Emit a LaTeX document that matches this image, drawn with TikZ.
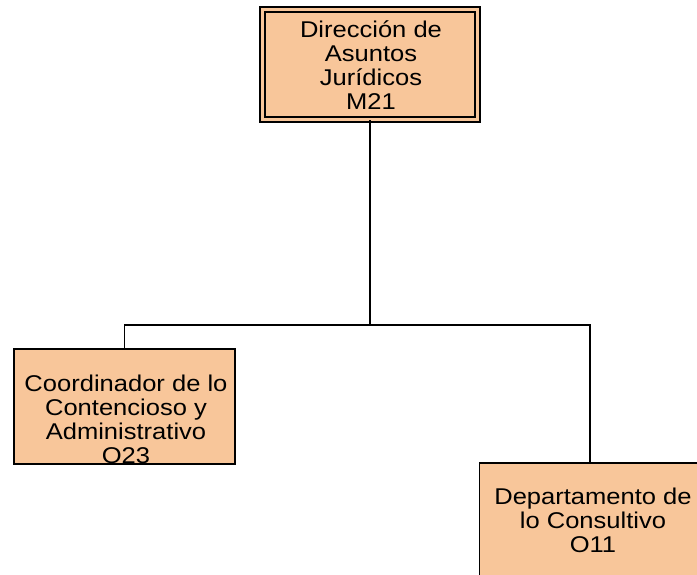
\documentclass[tikz,border=0pt]{standalone}
\usepackage{fontspec}
\setmainfont[FakeStretch=1.12]{Liberation Sans}
\usetikzlibrary{positioning}
\definecolor{peach}{RGB}{248,198,154}

\begin{document}
\begin{tikzpicture}[x=1pt, y=-1pt, line width=1.5pt,
	unit/.style={draw, fill=peach, rectangle, minimum width=221pt, minimum height=115pt, inner sep=0pt},
	head/.style={unit, double=peach, double distance=3.5pt, minimum width=215pt, minimum height=110pt},
	txt/.style={align=center, font=\fontsize{22.8}{24}\selectfont, inner sep=0pt}]
	\useasboundingbox (0,0) rectangle (697,575);

	\node	(dir)	[head] at (370,64.5)	{};
	\node	(coord)	[unit] at (124.5,406.5)	{};
	\node	(dept)	[unit] at (590,520.5)	{};

	\node	(dirt)	[txt] at (371,65)		{Dirección de\\Asuntos\\Jurídicos\\M21};
	\node	(coordt)	[txt] at (126,419)	{Coordinador de lo\\Contencioso y\\Administrativo\\O23};
	\node	(deptt)	[txt] at (593,520)		{Departamento de\\lo Consultivo\\O11};

	\coordinate (split) at (370,325);
	\draw (dir) -- (split);
	\draw (split) -| (coord);
	\draw (split) -| (dept);

\end{tikzpicture}
\end{document}
